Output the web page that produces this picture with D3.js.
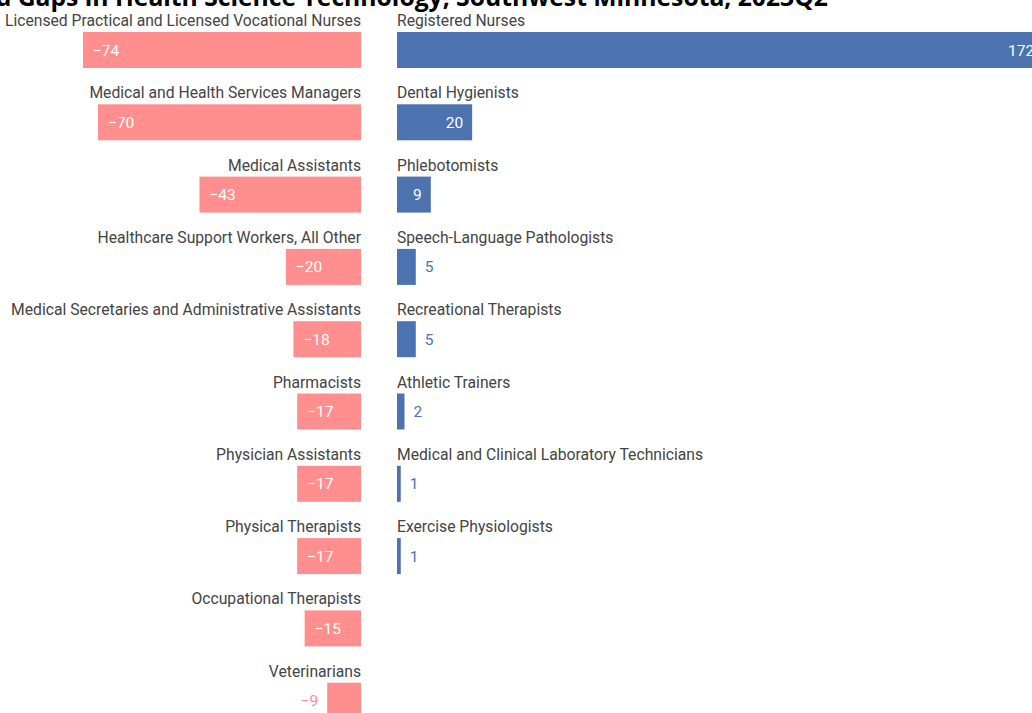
<!DOCTYPE html>
<html><head><meta charset="utf-8">
<script src="https://cdn.jsdelivr.net/npm/d3@7"></script>
<style>
html,body{margin:0;padding:0;background:#fff;overflow:hidden}
svg{display:block}
</style></head>
<body>
<svg id="chart" width="1032" height="713"></svg>
<script>
const title = "Supply and Demand Gaps in Health Science Technology, Southwest Minnesota, 2023Q2";
const gapOccupations = ["Licensed Practical and Licensed Vocational Nurses","Medical and Health Services Managers","Medical Assistants","Healthcare Support Workers, All Other","Medical Secretaries and Administrative Assistants","Pharmacists","Physician Assistants","Physical Therapists","Occupational Therapists","Veterinarians"];
const gapValues = [-74,-70,-43,-20,-18,-17,-17,-17,-15,-9];
const surplusOccupations = ["Registered Nurses","Dental Hygienists","Phlebotomists","Speech-Language Pathologists","Recreational Therapists","Athletic Trainers","Medical and Clinical Laboratory Technicians","Exercise Physiologists"];
const surplusValues = [172,20,9,5,5,2,1,1];

const pink = "#ff8f8f", blue = "#4c72b0";
const svg = d3.select("#chart");
const fmt = v => v < 0 ? "\u2212" + Math.abs(v) : String(v);

const titleText = svg.append("text").attr("x", 828).attr("y", 6).attr("text-anchor","end")
  .attr("font-family","'Open Sans', sans-serif").attr("font-weight","bold")
  .attr("font-size", 24.7).attr("fill","#000").text(title);

const rows = d3.range(10);
const y = d3.scaleBand().domain(rows).range([32 - (72.3-36)/2, 32 - (72.3-36)/2 + 72.3*10]).paddingInner((72.3-36)/72.3).paddingOuter((72.3-36)/72.3/2);
const barH = y.bandwidth();
const xL = d3.scaleLinear().domain([0, 74]).range([361, 361 - 278]);
const xR = d3.scaleLinear().domain([0, 172]).range([397, 397 + 172*278/74]);

const font = "Roboto, sans-serif";
const labelSize = 15.7, valueSize = 15.5;
const pad = 9;

function measure(t){
  const tmp = svg.append("text").attr("font-family",font).attr("font-size",valueSize).text(t);
  const w = tmp.node().getComputedTextLength(); tmp.remove(); return w;
}

// left
const gl = svg.append("g");
gapValues.forEach((v,i)=>{
  const x0 = xL(-v), w = 361 - x0, yy = y(i);
  gl.append("text").attr("x",361).attr("y",yy-6).attr("text-anchor","end")
    .attr("font-family",font).attr("font-size",labelSize).attr("fill","#444").text(gapOccupations[i]);
  gl.append("rect").attr("x",x0).attr("y",yy).attr("width",w).attr("height",barH).attr("fill",pink);
  const t = fmt(v), tw = measure(t);
  const inside = w >= tw + 2*pad + 2;
  gl.append("text").attr("x", inside ? x0 + 10 : x0 - pad).attr("y", yy + barH/2 + 5.5)
    .attr("text-anchor", inside ? "start" : "end")
    .attr("font-family",font).attr("font-size",valueSize).attr("fill", inside ? "#fff" : pink).text(t);
});
// right
const gr = svg.append("g");
surplusValues.forEach((v,i)=>{
  const x1 = xR(v), w = x1 - 397, yy = y(i);
  gr.append("text").attr("x",397).attr("y",yy-6).attr("text-anchor","start")
    .attr("font-family",font).attr("font-size",labelSize).attr("fill","#444").text(surplusOccupations[i]);
  gr.append("rect").attr("x",397).attr("y",yy).attr("width",w).attr("height",barH).attr("fill",blue);
  const t = fmt(v), tw = measure(t);
  const inside = w >= tw + 2*pad;
  gr.append("text").attr("x", inside ? x1 - pad : x1 + pad).attr("y", yy + barH/2 + 5.5)
    .attr("text-anchor", inside ? "end" : "start")
    .attr("font-family",font).attr("font-size",valueSize).attr("fill", inside ? "#fff" : blue).text(t);
});
</script>
</body></html>
